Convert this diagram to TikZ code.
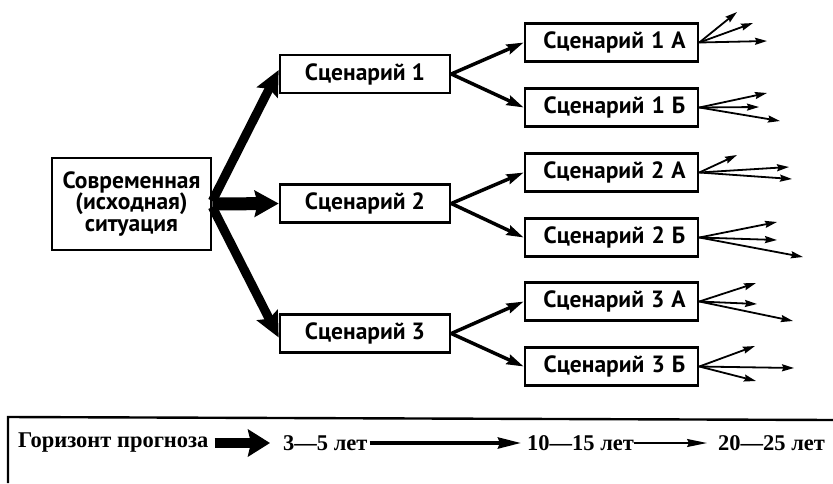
\documentclass[tikz,border=0pt]{standalone}
\usepackage{fontspec}
\setmainfont{PT Sans}
\newfontfamily\legfont{Liberation Serif}
\usetikzlibrary{arrows.meta}
\begin{document}
\begin{tikzpicture}[x=1pt,y=-1pt,
 box/.style={draw,line width=2.6pt,fill=white,minimum height=38pt,inner sep=0pt,font=\bfseries\fontsize{23.5}{21.5}\selectfont},
 sbox/.style={box,minimum width=170pt},
 subbox/.style={box,minimum width=173pt},
 fat/.style={line width=9pt,-{Stealth[length=25pt,width=23pt,inset=4pt]}},
 fatter/.style={line width=13pt,-{Stealth[length=24pt,width=26pt,inset=3pt]}},
 mid/.style={line width=3.5pt,-{Stealth[length=17pt,width=10pt,inset=2pt]}},
 thinarr/.style={line width=1.8pt,-{Stealth[length=12pt,width=7pt,inset=1.5pt]}},
 leg/.style={font=\legfont\bfseries\fontsize{22.5}{24}\selectfont, inner sep=0pt, anchor=west},
 legfat/.style={line width=10pt,-{Stealth[length=22pt,width=27pt,inset=3pt]}},
 legmid/.style={line width=3.5pt,-{Stealth[length=23pt,width=11pt,inset=2pt]}},
 legthin/.style={line width=1.6pt,-{Stealth[length=20pt,width=8pt,inset=2pt]}}
]
\useasboundingbox (0,0) rectangle (833,483);
\node[box,minimum width=159pt,minimum height=92pt,align=center] (m) at (131.5,204) {Современная\\(исходная)\\ситуация};
\node[sbox] (s1) at (365,74) {Сценарий 1};
\node[sbox] (s2) at (365,203.5) {Сценарий 2};
\node[sbox] (s3) at (365,333.5) {Сценарий 3};
\node[subbox] (a1) at (611.5,42.5) {\hspace{6pt}Сценарий\hspace{0.3em}1\hspace{0.3em}А};
\node[subbox] (b1) at (611.5,107.5) {\hspace{6pt}Сценарий\hspace{0.3em}1\hspace{0.3em}Б};
\node[subbox] (a2) at (611.5,172.5) {\hspace{6pt}Сценарий\hspace{0.3em}2\hspace{0.3em}А};
\node[subbox] (b2) at (611.5,237.5) {\hspace{6pt}Сценарий\hspace{0.3em}2\hspace{0.3em}Б};
\node[subbox] (a3) at (611.5,301.5) {\hspace{6pt}Сценарий\hspace{0.3em}3\hspace{0.3em}А};
\node[subbox] (b3) at (611.5,366.5) {\hspace{6pt}Сценарий\hspace{0.3em}3\hspace{0.3em}Б};
% thick arrows
\draw[fat] ([yshift=3pt]m.east) -- ([yshift=4pt]s1.west);
\draw[fatter] (m.east) -- (s2.west);
\draw[fat] ([yshift=-3pt]m.east) -- ([yshift=-4pt]s3.west);
% middle arrows
\draw[mid] (s1.east) -- (a1.west);
\draw[mid] (s1.east) -- (b1.west);
\draw[mid] (s2.east) -- (a2.west);
\draw[mid] (s2.east) -- (b2.west);
\draw[mid] (s3.east) -- (a3.west);
\draw[mid] (s3.east) -- (b3.west);
% outgoing arrows
\coordinate (a1x) at (737,12); \coordinate (a1y) at (753,23); \coordinate (a1z) at (767,41);
\coordinate (b1x) at (767,93); \coordinate (b1y) at (759,107); \coordinate (b1z) at (780,121);
\coordinate (a2x) at (737,155); \coordinate (a2y) at (789,167); \coordinate (a2z) at (792,179);
\coordinate (b2x) at (777,222); \coordinate (b2y) at (777,240); \coordinate (b2z) at (803,257);
\coordinate (a3x) at (756,283); \coordinate (a3y) at (757,304); \coordinate (a3z) at (793,321);
\coordinate (b3x) at (755,346); \coordinate (b3y) at (794,368); \coordinate (b3z) at (756,381);
\foreach \n in {a1,b1,a2,b2,a3,b3}{
  \foreach \k in {x,y,z}{
    \draw[thinarr] (\n.east) -- (\n\k);
  }
}
% legend
\coordinate (lt) at (8,417);
\coordinate (lr) at (833,420);
\coordinate (lb) at (8,483);
\draw[line width=2.4pt] (lr) -- (lt) -- (lb);
\node[leg] (h) at (18,443) {Горизонт прогноза};
\node[leg] (t1) at (283,443) {3—5 лет};
\node[leg] (t2) at (527,443) {10—15 лет};
\node[leg] (t3) at (718,443) {20—25 лет};
\draw[legfat] ([xshift=6pt]h.east) -- ([xshift=-13pt]t1.west);
\draw[legmid] ([xshift=2pt]t1.east) -- ([xshift=-6pt]t2.west);
\draw[legthin] (t2.east) -- ([xshift=-11pt]t3.west);
\end{tikzpicture}
\end{document}
